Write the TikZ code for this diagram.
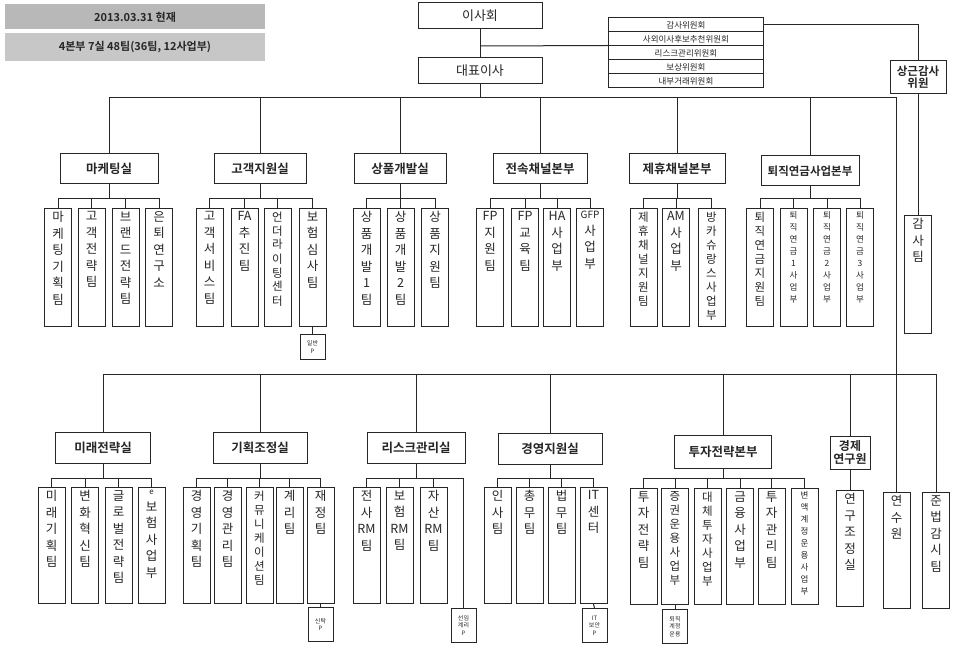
\documentclass[tikz,border=0pt]{standalone}
\usepackage{fontspec}
\setmainfont{Noto Sans CJK KR}[BoldFont={Noto Sans CJK KR Bold}]
\newcommand\mykid[4]{\node[kid,label={[#4]north:{#3}}] (#1) at (#2) {};}
\begin{document}
\begin{tikzpicture}[x=1pt,y=-1pt,line width=1pt,color=black!85,
  hdr/.style={fill=black!28,draw=none,minimum width=260,minimum height=25,inner sep=0,font=\bfseries\fontsize{11}{13}\selectfont},
  topbox/.style={draw,minimum width=124,minimum height=26,inner sep=0,font=\fontsize{13}{15}\selectfont},
  com/.style={draw,minimum width=155,minimum height=14,inner sep=0,font=\fontsize{8.5}{9}\selectfont},
  dept/.style={draw,minimum height=30,inner sep=2,font=\bfseries\fontsize{12.5}{14}\selectfont},
  kid/.style={draw,minimum width=27,minimum height=118,anchor=north,inner sep=0},
  lab/.style={anchor=north,align=center,inner sep=3,font=\fontsize{12.5}{16.5}\selectfont},
  labt/.style={lab,font=\fontsize{11.5}{14}\selectfont},
  labs/.style={lab,font=\fontsize{8.5}{12}\selectfont},
  pbox/.style={draw,anchor=north,minimum width=25,minimum height=34,inner sep=1,align=center,font=\fontsize{6}{7.5}\selectfont}]
\useasboundingbox (0,0) rectangle (971,647);
% header
\node[hdr] (h1) at (135,17) {2013.03.31 현재};
\node[hdr,minimum height=28,fill=black!22] (h2) at (135,47) {4본부 7실 48팀(36팀, 12사업부)};
% top
\node[topbox] (board) at (480,16) {이사회};
\node[topbox] (ceo) at (480,71) {대표이사};
\node[com] (cm1) at (686,25) {감사위원회};
\node[com] (cm2) at (686,39) {사외이사후보추천위원회};
\node[com] (cm3) at (686,53) {리스크관리위원회};
\node[com] (cm4) at (686,67) {보상위원회};
\node[com] (cm5) at (686,81) {내부거래위원회};
\coordinate (cj) at (480,46);
\draw (board) -- (ceo);
\draw (cj) -- (cm3.north west);
\node[dept,minimum width=56,minimum height=33,align=center,font=\bfseries\fontsize{11.5}{12.5}\selectfont] (audit) at (918,77) {상근감사\\위원};
\draw (cm1.east) -| (audit.north);
\mykid{gamsa}{918,215}{감\\사\\팀}{lab}
\draw (audit.south) -- (gamsa.north);
% upper bus
\coordinate (bus) at (480,98);
\draw (ceo) -- (bus);
\node[dept,minimum width=98] (mkt) at (109,169) {마케팅실};
\node[dept,minimum width=92] (cs) at (260,169) {고객지원실};
\node[dept,minimum width=92] (pd) at (400,169) {상품개발실};
\node[dept,minimum width=94] (ex) at (540,169) {전속채널본부};
\node[dept,minimum width=96] (al) at (677,169) {제휴채널본부};
\node[dept,minimum width=98,font=\bfseries\fontsize{11.5}{13}\selectfont] (rp) at (810,171) {퇴직연금사업본부};
\foreach \d in {mkt,cs,pd,ex,al,rp} \draw (\d.north) |- (bus);
% upper children
\mykid{m1}{58,208}{마\\케\\팅\\기\\획\\팀}{lab}
\mykid{m2}{91.5,208}{고\\객\\전\\략\\팀}{lab}
\mykid{m3}{125.5,208}{브\\랜\\드\\전\\략\\팀}{lab}
\mykid{m4}{159,208}{은\\퇴\\연\\구\\소}{lab}
\mykid{s1}{209.5,208}{고\\객\\서\\비\\스\\팀}{lab}
\mykid{s2}{244.5,208}{FA\\추\\진\\팀}{lab}
\mykid{s3}{277.5,208}{언\\더\\라\\이\\팅\\센\\터}{labt}
\mykid{s4}{312.5,208}{보\\험\\심\\사\\팀}{lab}
\node[pbox,minimum height=25] (sp) at (312.5,334) {일반\\P};
\mykid{p1}{366.5,208}{상\\품\\개\\발\\1\\팀}{lab}
\mykid{p2}{400.5,208}{상\\품\\개\\발\\2\\팀}{lab}
\mykid{p3}{435,208}{상\\품\\지\\원\\팀}{lab}
\mykid{e1}{490,208}{FP\\지\\원\\팀}{lab}
\mykid{e2}{525,208}{FP\\교\\육\\팀}{lab}
\mykid{e3}{557,208}{HA\\사\\업\\부}{lab}
\mykid{e4}{590,208}{{\fontsize{10}{12}\selectfont GFP}\\사\\업\\부}{lab}
\mykid{a1}{643.5,208}{제\\휴\\채\\널\\지\\원\\팀}{labt}
\mykid{a2}{676,208}{AM\\사\\업\\부}{lab}
\mykid{a3}{711.5,208}{방\\카\\슈\\랑\\스\\사\\업\\부}{labt}
\mykid{r1}{760,208}{퇴\\직\\연\\금\\지\\원\\팀}{labt}
\mykid{r2}{793.5,208}{퇴\\직\\연\\금\\1\\사\\업\\부}{labs}
\mykid{r3}{827,208}{퇴\\직\\연\\금\\2\\사\\업\\부}{labs}
\mykid{r4}{860,208}{퇴\\직\\연\\금\\3\\사\\업\\부}{labs}
\coordinate (mb) at (109,198);
\coordinate (sb) at (260,198);
\coordinate (pb) at (400,198);
\coordinate (eb) at (540,198);
\coordinate (ab) at (677,198);
\coordinate (rb) at (810,198);
\draw (mkt) -- (mb); \draw (cs) -- (sb); \draw (pd) -- (pb);
\draw (ex) -- (eb); \draw (al) -- (ab); \draw (rp) -- (rb);
\foreach \n in {m1,m2,m3,m4} \draw (\n.north) |- (mb);
\foreach \n in {s1,s2,s3,s4} \draw (\n.north) |- (sb);
\foreach \n in {p1,p2,p3} \draw (\n.north) |- (pb);
\foreach \n in {e1,e2,e3,e4} \draw (\n.north) |- (eb);
\foreach \n in {a1,a2,a3} \draw (\n.north) |- (ab);
\foreach \n in {r1,r2,r3,r4} \draw (\n.north) |- (rb);
\draw (s4.south) -- (sp.north);
% lower row
\coordinate (lbus) at (896.5,374);
\node[dept,minimum width=95,minimum height=31] (mirae) at (103,448) {미래전략실};
\node[dept,minimum width=94,minimum height=31] (plan) at (260,448) {기획조정실};
\node[dept,minimum width=98,minimum height=31] (risk) at (416,448) {리스크관리실};
\node[dept,minimum width=104,minimum height=31] (mgmt) at (550,449) {경영지원실};
\node[dept,minimum width=97,minimum height=33] (inv) at (723,452) {투자전략본부};
\node[dept,minimum width=40,minimum height=33,align=center,font=\bfseries\fontsize{12}{13}\selectfont] (econ) at (850,453) {경제\\연구원};
\begin{scope}[kid/.append style={minimum height=116}]
\mykid{l1}{51.5,487}{미\\래\\기\\획\\팀}{lab}
\mykid{l2}{85,487}{변\\화\\혁\\신\\팀}{lab}
\mykid{l3}{118.5,487}{글\\로\\벌\\전\\략\\팀}{lab}
\mykid{l4}{151.5,487}{{\fontsize{8}{10}\selectfont e}\\보\\험\\사\\업\\부}{lab}
\mykid{g1}{196.5,487}{경\\영\\기\\획\\팀}{lab}
\mykid{g2}{227.5,487}{경\\영\\관\\리\\팀}{lab}
\mykid{g3}{259.5,487}{커\\뮤\\니\\케\\이\\션\\팀}{labt}
\mykid{g4}{289.5,487}{계\\리\\팀}{lab}
\mykid{g5}{320.5,487}{재\\정\\팀}{lab}
\mykid{k1}{366.5,487}{전\\사\\RM\\팀}{lab}
\mykid{k2}{399.5,487}{보\\험\\RM\\팀}{lab}
\mykid{k3}{433.5,487}{자\\산\\RM\\팀}{lab}
\mykid{w1}{497.5,487}{인\\사\\팀}{lab}
\mykid{w2}{529.5,487}{총\\무\\팀}{lab}
\mykid{w3}{561.5,487}{법\\무\\팀}{lab}
\mykid{w4}{593.5,487}{IT\\센\\터}{lab}
\mykid{v1}{643.5,488}{투\\자\\전\\략\\팀}{lab}
\mykid{v2}{675,488}{증\\권\\운\\용\\사\\업\\부}{labt}
\mykid{v3}{707.5,488}{대\\체\\투\\자\\사\\업\\부}{labt}
\mykid{v4}{740,488}{금\\융\\사\\업\\부}{lab}
\mykid{v5}{771.5,488}{투\\자\\관\\리\\팀}{lab}
\mykid{v6}{804.5,488}{변\\액\\계\\정\\운\\용\\사\\업\\부}{labs}
\mykid{yg}{850,490}{연\\구\\조\\정\\실}{lab}
\mykid{yeonsu}{896.5,492}{연\\수\\원}{lab}
\mykid{junbeop}{936,492}{준\\법\\감\\시\\팀}{lab}
\end{scope}
\node[pbox] (gp) at (320.5,607) {신탁\\P};
\node[pbox] (kp) at (463.5,608) {선임\\계리\\P};
\node[pbox] (wp) at (594.5,608) {IT\\보안\\P};
\node[pbox] (vp) at (675,609) {퇴직\\계정\\운용};
\draw (yeonsu.north) |- (bus);
\foreach \d in {mirae,plan,risk,mgmt,inv,econ,junbeop} \draw (\d.north) |- (lbus);
\coordinate (lb) at (103,478);
\coordinate (gb) at (260,478);
\coordinate (kb) at (416,478);
\coordinate (wb) at (550,478);
\coordinate (vb) at (723,478);
\draw (mirae) -- (lb); \draw (plan) -- (gb); \draw (risk) -- (kb);
\draw (mgmt) -- (wb); \draw (inv) -- (vb);
\foreach \n in {l1,l2,l3,l4} \draw (\n.north) |- (lb);
\foreach \n in {g1,g2,g3,g4,g5} \draw (\n.north) |- (gb);
\foreach \n in {k1,k2,k3,kp} \draw (\n.north) |- (kb);
\foreach \n in {w1,w2,w3,w4} \draw (\n.north) |- (wb);
\foreach \n in {v1,v2,v3,v4,v5,v6} \draw (\n.north) |- (vb);
\draw (econ) -- (yg);
\draw (g5.south) -- (gp.north);
\draw (w4.south) -- (wp.north);
\draw (v2.south) -- (vp.north);
\end{tikzpicture}
\end{document}
